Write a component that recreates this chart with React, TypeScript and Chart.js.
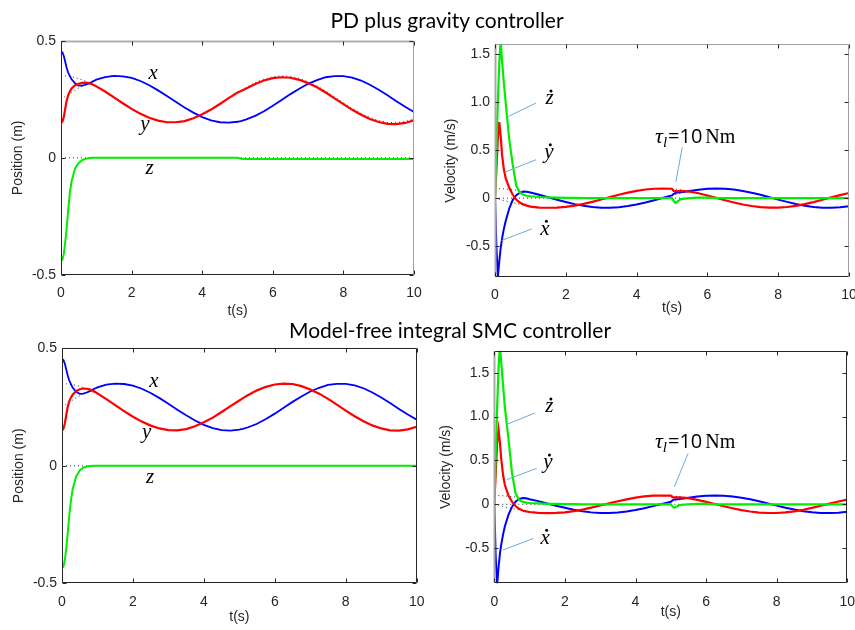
import React, { useEffect, useRef } from "react";
import { Chart, registerables } from "chart.js";

Chart.register(...registerables);

// ---------- time samples (s) ----------
const T = [
  0, 0.04, 0.08, 0.12, 0.16, 0.2, 0.25, 0.3, 0.4, 0.5, 0.6, 0.7, 0.8, 0.9,
  1, 1.25, 1.5, 1.75, 2, 2.25, 2.5, 2.75, 3, 3.25, 3.5, 3.75, 4, 4.25, 4.5, 4.75, 5,
  5.05, 5.1,
  5.25, 5.5, 5.75, 6, 6.25, 6.5, 6.75, 7, 7.25, 7.5, 7.75, 8, 8.25, 8.5, 8.75, 9, 9.25, 9.5, 9.75, 10,
];
const T_FLAT = [0, 10];
const ZERO_FLAT = [0, 0];

// ---------- position references ----------
const REF_X = [
  0.25, 0.254, 0.258, 0.262, 0.266, 0.27, 0.275, 0.28, 0.289, 0.298, 0.306, 0.314, 0.322, 0.328,
  0.334, 0.345, 0.35, 0.348, 0.341, 0.328, 0.31, 0.288, 0.264, 0.239, 0.215, 0.193, 0.174, 0.16, 0.152, 0.15, 0.154,
  0.156, 0.157,
  0.164, 0.179, 0.199, 0.222, 0.247, 0.272, 0.295, 0.316, 0.332, 0.344, 0.349, 0.349, 0.342, 0.33, 0.312, 0.291, 0.267, 0.242, 0.218, 0.196,
];
const REF_Y = [
  0.35, 0.35, 0.35, 0.349, 0.349, 0.348, 0.347, 0.346, 0.342, 0.338, 0.333, 0.327, 0.32, 0.312,
  0.304, 0.282, 0.257, 0.232, 0.208, 0.187, 0.17, 0.158, 0.151, 0.151, 0.156, 0.168, 0.185, 0.205, 0.229, 0.254, 0.278,
  0.283, 0.288,
  0.301, 0.321, 0.336, 0.346, 0.35, 0.348, 0.339, 0.325, 0.307, 0.285, 0.26, 0.235, 0.211, 0.19, 0.172, 0.159, 0.151, 0.15, 0.155, 0.166,
];

// ---------- PD plus gravity: positions ----------
const PD_X = [
  0.454, 0.45, 0.435, 0.41, 0.385, 0.365, 0.35, 0.335, 0.318, 0.308, 0.308, 0.312, 0.318, 0.326,
  0.334, 0.345, 0.35, 0.348, 0.341, 0.328, 0.31, 0.288, 0.264, 0.239, 0.215, 0.193, 0.174, 0.16, 0.152, 0.15, 0.154,
  0.156, 0.157,
  0.164, 0.179, 0.199, 0.222, 0.247, 0.272, 0.295, 0.316, 0.332, 0.344, 0.349, 0.349, 0.342, 0.33, 0.312, 0.291, 0.267, 0.242, 0.218, 0.196,
];
const PD_Y = [
  0.15, 0.155, 0.175, 0.21, 0.245, 0.265, 0.283, 0.296, 0.31, 0.316, 0.32, 0.321, 0.319, 0.313,
  0.305, 0.283, 0.258, 0.233, 0.209, 0.188, 0.171, 0.159, 0.152, 0.152, 0.157, 0.169, 0.186, 0.206, 0.23, 0.255, 0.279,
  0.282, 0.285,
  0.296, 0.315, 0.33, 0.34, 0.344, 0.342, 0.333, 0.319, 0.301, 0.279, 0.254, 0.229, 0.205, 0.184, 0.166, 0.153, 0.145, 0.144, 0.149, 0.16,
];
const PD_Z = [
  -0.435, -0.435, -0.41, -0.36, -0.3, -0.23, -0.15, -0.1, -0.045, -0.022, -0.01, -0.004, -0.001, 0,
  0, 0, 0, 0, 0, 0, 0, 0, 0, 0, 0, 0, 0, 0, 0, 0, 0,
  -0.002, -0.004,
  -0.005, -0.005, -0.005, -0.005, -0.005, -0.005, -0.005, -0.005, -0.005, -0.005, -0.005, -0.005, -0.005, -0.005, -0.005, -0.005, -0.005, -0.005, -0.005, -0.005,
];

// ---------- Model-free integral SMC: positions ----------
const SMC_X = [
  0.455, 0.45, 0.435, 0.41, 0.385, 0.365, 0.348, 0.333, 0.315, 0.306, 0.307, 0.312, 0.319, 0.327,
  0.334, 0.345, 0.35, 0.348, 0.341, 0.328, 0.31, 0.288, 0.264, 0.239, 0.215, 0.193, 0.174, 0.16, 0.152, 0.15, 0.154,
  0.156, 0.157,
  0.164, 0.179, 0.199, 0.222, 0.247, 0.272, 0.295, 0.316, 0.332, 0.344, 0.349, 0.349, 0.342, 0.33, 0.312, 0.291, 0.267, 0.242, 0.218, 0.196,
];
const SMC_Y = [
  0.15, 0.158, 0.18, 0.215, 0.25, 0.272, 0.29, 0.303, 0.318, 0.326, 0.329, 0.328, 0.324, 0.317,
  0.308, 0.284, 0.258, 0.233, 0.209, 0.188, 0.171, 0.159, 0.152, 0.151, 0.156, 0.168, 0.185, 0.205, 0.229, 0.254, 0.278,
  0.283, 0.288,
  0.301, 0.321, 0.336, 0.346, 0.35, 0.348, 0.339, 0.325, 0.307, 0.285, 0.26, 0.235, 0.211, 0.19, 0.172, 0.159, 0.151, 0.15, 0.155, 0.166,
];
const SMC_Z = [
  -0.435, -0.43, -0.4, -0.35, -0.29, -0.22, -0.15, -0.1, -0.045, -0.02, -0.008, -0.003, -0.001, 0,
  0, 0, 0, 0, 0, 0, 0, 0, 0, 0, 0, 0, 0, 0, 0, 0, 0,
  0, 0,
  0, 0, 0, 0, 0, 0, 0, 0, 0, 0, 0, 0, 0, 0, 0, 0, 0, 0, 0, 0,
];

// ---------- velocity references ----------
const REF_VX = [
  0.1, 0.1, 0.1, 0.099, 0.099, 0.098, 0.097, 0.096, 0.092, 0.088, 0.083, 0.076, 0.07, 0.062,
  0.054, 0.032, 0.007, -0.018, -0.042, -0.063, -0.08, -0.092, -0.099, -0.099, -0.094, -0.082, -0.065, -0.045, -0.021, 0.004, 0.028,
  0.033, 0.038,
  0.051, 0.071, 0.086, 0.096, 0.1, 0.098, 0.089, 0.075, 0.057, 0.035, 0.01, -0.015, -0.039, -0.06, -0.078, -0.091, -0.099, -0.1, -0.095, -0.084,
];
const REF_VY = [
  0, -0.004, -0.008, -0.012, -0.016, -0.02, -0.025, -0.03, -0.039, -0.048, -0.056, -0.064, -0.072, -0.078,
  -0.084, -0.095, -0.1, -0.098, -0.091, -0.078, -0.06, -0.038, -0.014, 0.011, 0.035, 0.057, 0.076, 0.09, 0.098, 0.1, 0.096,
  0.095, 0.093,
  0.086, 0.071, 0.051, 0.028, 0.003, -0.022, -0.045, -0.066, -0.082, -0.094, -0.099, -0.099, -0.092, -0.08, -0.062, -0.041, -0.017, 0.008, 0.032, 0.054,
];

// ---------- PD plus gravity: velocities ----------
const PD_VX = [
  0, -0.5, -0.82, -0.66, -0.52, -0.42, -0.32, -0.24, -0.11, -0.02, 0.03, 0.055, 0.068, 0.066,
  0.058, 0.036, 0.01, -0.016, -0.04, -0.062, -0.08, -0.092, -0.099, -0.099, -0.094, -0.082, -0.065, -0.045, -0.021, 0.004, 0.028,
  0.045, 0.055,
  0.06, 0.075, 0.088, 0.097, 0.1, 0.098, 0.089, 0.075, 0.057, 0.035, 0.01, -0.015, -0.039, -0.06, -0.078, -0.091, -0.099, -0.1, -0.095, -0.084,
];
const PD_VY = [
  0, 0.3, 0.62, 0.79, 0.65, 0.45, 0.3, 0.21, 0.11, 0.035, -0.015, -0.045, -0.065, -0.078,
  -0.088, -0.098, -0.1, -0.098, -0.091, -0.078, -0.06, -0.038, -0.014, 0.011, 0.035, 0.057, 0.076, 0.09, 0.098, 0.1, 0.098,
  0.075, 0.072,
  0.075, 0.068, 0.051, 0.028, 0.003, -0.022, -0.045, -0.066, -0.082, -0.094, -0.099, -0.099, -0.092, -0.08, -0.062, -0.041, -0.017, 0.008, 0.032, 0.054,
];
const PD_VZ = [
  0, 0.5, 1.0, 1.4, 1.65, 1.42, 1.2, 1.0, 0.62, 0.35, 0.13, 0.06, 0.035, 0.025,
  0.02, 0.012, 0.008, 0.005, 0.003, 0.002, 0.001, 0, 0, 0, 0, 0, 0, 0, 0, 0, 0,
  -0.03, -0.05,
  -0.01, 0, 0.005, 0.005, 0, 0, 0, 0, 0, 0, 0, 0, 0, 0, 0, 0, 0, 0, 0, 0,
];

// ---------- Model-free integral SMC: velocities ----------
const SMC_VX = [
  0, -0.6, -0.92, -0.72, -0.56, -0.45, -0.34, -0.25, -0.12, -0.03, 0.03, 0.06, 0.072, 0.068,
  0.058, 0.036, 0.01, -0.016, -0.04, -0.062, -0.08, -0.092, -0.099, -0.099, -0.094, -0.082, -0.065, -0.045, -0.021, 0.004, 0.028,
  0.045, 0.055,
  0.06, 0.075, 0.088, 0.097, 0.1, 0.098, 0.089, 0.075, 0.057, 0.035, 0.01, -0.015, -0.039, -0.06, -0.078, -0.091, -0.099, -0.1, -0.095, -0.084,
];
const SMC_VY = [
  0, 0.35, 0.7, 0.85, 0.7, 0.5, 0.33, 0.22, 0.1, 0.03, -0.02, -0.05, -0.07, -0.08,
  -0.088, -0.098, -0.1, -0.098, -0.091, -0.078, -0.06, -0.038, -0.014, 0.011, 0.035, 0.057, 0.076, 0.09, 0.098, 0.1, 0.098,
  0.08, 0.078,
  0.078, 0.07, 0.051, 0.028, 0.003, -0.022, -0.045, -0.066, -0.082, -0.094, -0.099, -0.099, -0.092, -0.08, -0.062, -0.041, -0.017, 0.008, 0.032, 0.054,
];
const SMC_VZ = [
  0, 0.55, 1.1, 1.55, 1.8, 1.6, 1.35, 1.1, 0.75, 0.36, 0.13, 0.05, 0.03, 0.02,
  0.015, 0.01, 0.006, 0.004, 0.002, 0.001, 0, 0, 0, 0, 0, 0, 0, 0, 0, 0, 0,
  -0.025, -0.04,
  -0.008, 0, 0.004, 0.004, 0, 0, 0, 0, 0, 0, 0, 0, 0, 0, 0, 0, 0, 0, 0, 0,
];

// ---------- axis ticks & titles ----------
const X_TICK_STEP = 2;
const POS_RANGE = [-0.5, 0.5];
const PD_VEL_RANGE = [-0.82, 1.6];
const SMC_VEL_RANGE = [-0.9, 1.75];
const TITLES = ["PD plus gravity controller", "Model-free integral SMC controller"];

// ---------- annotations (data coordinates) ----------
const PD_POS_LABELS = [
  { ch: "x", t: 2.61, v: 0.336 },
  { ch: "y", t: 2.38, v: 0.12 },
  { ch: "z", t: 2.51, v: -0.068 },
];
const SMC_POS_LABELS = [
  { ch: "x", t: 2.59, v: 0.336 },
  { ch: "y", t: 2.39, v: 0.117 },
  { ch: "z", t: 2.48, v: -0.075 },
];
const PD_VEL_LABELS = [
  { ch: "z", t: 1.54, v: 0.975, dot: true },
  { ch: "y", t: 1.52, v: 0.414, dot: true },
  { ch: "x", t: 1.41, v: -0.38, dot: true },
];
const SMC_VEL_LABELS = [
  { ch: "z", t: 1.56, v: 1.046, dot: true },
  { ch: "y", t: 1.52, v: 0.409, dot: true },
  { ch: "x", t: 1.44, v: -0.45, dot: true },
];
const PD_VEL_LEADERS = [
  [1.16, 0.99, 0.38, 0.85],
  [1.16, 0.4, 0.31, 0.275],
  [1.04, -0.32, 0.19, -0.44],
  [5.29, 0.53, 5.11, 0.17],
];
const SMC_VEL_LEADERS = [
  [1.15, 1.04, 0.35, 0.91],
  [1.2, 0.41, 0.35, 0.28],
  [1.1, -0.39, 0.25, -0.52],
  [5.49, 0.58, 5.1, 0.2],
];
const PD_TAU = { t: 4.52, v: 0.575 };
const SMC_TAU = { t: 4.55, v: 0.638 };

const BLUE = "#0000ff";
const RED = "#ff0000";
const GREEN = "#00ee00";
const DARK = "#262626";

const matPlugin = {
  id: "mat",
  afterDatasetsDraw(chart: any, _a: any, opts: any) {
    const { ctx, chartArea: a, scales } = chart;
    const xs = scales.x;
    const ys = scales.y;
    ctx.save();
    const L = Math.round(a.left) + 0.5;
    const R = Math.round(a.right) - 0.5;
    const Tp = Math.round(a.top) + 0.5;
    const B = Math.round(a.bottom) - 0.5;
    const seg = (x1: number, y1: number, x2: number, y2: number, c: string, w = 1) => {
      ctx.strokeStyle = c;
      ctx.lineWidth = w;
      ctx.beginPath();
      ctx.moveTo(x1, y1);
      ctx.lineTo(x2, y2);
      ctx.stroke();
    };
    seg(L, Tp, R, Tp, opts.topColor, opts.topWidth);
    seg(R, Tp, R, B, opts.rightColor, 1);
    seg(L, Tp, L, B, opts.leftColor, opts.leftWidth);
    seg(L, B, R, B, DARK, 1);
    xs.ticks.forEach((tk: any) => {
      const px = Math.round(xs.getPixelForValue(tk.value)) + 0.5;
      seg(px, B, px, B - 4, DARK);
      seg(px, Tp, px, Tp + 4, DARK);
    });
    ys.ticks.forEach((tk: any) => {
      const py = Math.round(ys.getPixelForValue(tk.value)) + 0.5;
      seg(L, py, L + 4, py, DARK);
      seg(R, py, R - 4, py, DARK);
    });
    // leaders
    (opts.leaders || []).forEach((l: number[]) => {
      seg(
        xs.getPixelForValue(l[0]), ys.getPixelForValue(l[1]),
        xs.getPixelForValue(l[2]), ys.getPixelForValue(l[3]),
        "#6fa8dc", 1
      );
    });
    // labels
    ctx.fillStyle = "#000";
    ctx.textBaseline = "alphabetic";
    (opts.labels || []).forEach((lb: any) => {
      const px = xs.getPixelForValue(lb.t);
      const py = ys.getPixelForValue(lb.v);
      ctx.font = 'italic 21px "Liberation Serif"';
      ctx.textAlign = "center";
      ctx.fillText(lb.ch, px, py);
      if (lb.dot) {
        ctx.beginPath();
        ctx.arc(px + 1.5, py - 13.5, 1.5, 0, Math.PI * 2);
        ctx.fill();
      }
    });
    if (opts.tau) {
      let x = xs.getPixelForValue(opts.tau.t);
      const y = ys.getPixelForValue(opts.tau.v);
      ctx.textAlign = "left";
      ctx.font = 'italic 22px "Liberation Serif"';
      ctx.fillText("\u03c4", x, y);
      x += ctx.measureText("\u03c4").width;
      ctx.font = 'italic 15px "Liberation Serif"';
      ctx.fillText("l", x, y + 4);
      x += ctx.measureText("l").width + 1;
      ctx.font = '20px "Open Sans"';
      ctx.fillText("=10", x, y);
      x += ctx.measureText("=10").width + 3;
      ctx.font = '20px "Liberation Serif"';
      ctx.fillText("Nm", x, y);
    }
    ctx.restore();
  },
};

function lineSet(values: number[], color: string, width = 2) {
  return {
    data: T.map((t, i) => ({ x: t, y: values[i] })),
    borderColor: color,
    borderWidth: width,
    pointRadius: 0,
    tension: 0,
    fill: false,
  };
}
function refSet(xs: number[], values: number[]) {
  return {
    data: xs.map((t, i) => ({ x: t, y: values[i] })),
    borderColor: "#333",
    borderWidth: 1,
    borderDash: [1, 3],
    pointRadius: 0,
    tension: 0,
    fill: false,
  };
}

type Spec = {
  left: number; top: number; w: number; h: number;
  yW: number; padR: number; padT: number; xH: number;
  yRange: number[]; yTitle: string; yTitlePad: number; xTitlePad: number;
  datasets: any[]; mat: any;
};

const tickFont = { family: '"Liberation Sans", Arial, sans-serif', size: 14 };

function buildConfig(s: Spec): any {
  return {
    type: "line",
    data: { datasets: s.datasets },
    plugins: [matPlugin],
    options: {
      animation: false,
      responsive: false,
      events: [],
      layout: { padding: { left: 0, right: s.padR, top: s.padT, bottom: 0 } },
      plugins: { legend: { display: false }, tooltip: { enabled: false }, mat: s.mat },
      scales: {
        x: {
          type: "linear",
          min: 0,
          max: 10,
          grid: { display: false, drawTicks: false },
          border: { display: false },
          ticks: { stepSize: X_TICK_STEP, includeBounds: false, padding: 10, color: DARK, font: tickFont, maxRotation: 0 },
          title: { display: true, text: "t(s)", color: DARK, font: tickFont, padding: { top: 0, bottom: s.xTitlePad } },
          afterFit: (sc: any) => {
            sc.height = s.xH;
            sc.paddingLeft = 0;
            sc.paddingRight = 0;
          },
        },
        y: {
          type: "linear",
          min: s.yRange[0],
          max: s.yRange[1],
          grid: { display: false, drawTicks: false },
          border: { display: false },
          ticks: { stepSize: 0.5, includeBounds: false, padding: 5, color: DARK, font: tickFont },
          title: { display: true, text: s.yTitle, color: DARK, font: tickFont, padding: { top: s.yTitlePad, bottom: 0 } },
          afterFit: (sc: any) => {
            sc.width = s.yW;
            sc.paddingTop = 0;
            sc.paddingBottom = 0;
          },
        },
      },
    },
  };
}

function Panel({ spec }: { spec: Spec }) {
  const ref = useRef<HTMLCanvasElement>(null);
  useEffect(() => {
    const chart = new Chart(ref.current as HTMLCanvasElement, buildConfig(spec));
    return () => chart.destroy();
  }, []);
  return (
    <canvas
      ref={ref}
      width={spec.w}
      height={spec.h}
      style={{ position: "absolute", left: spec.left, top: spec.top, width: spec.w, height: spec.h }}
    />
  );
}

const posSets = (x: number[], y: number[], z: number[]) => [
  lineSet(z, GREEN, 2),
  lineSet(y, RED, 2.2),
  lineSet(x, BLUE, 1.8),
  refSet(T, REF_X),
  refSet(T, REF_Y),
  refSet(T_FLAT, ZERO_FLAT),
];
const velSets = (x: number[], y: number[], z: number[]) => [
  lineSet(z, GREEN, 2.2),
  lineSet(y, RED, 2.2),
  lineSet(x, BLUE, 2),
  refSet(T, REF_VX),
  refSet(T, REF_VY),
  refSet(T_FLAT, ZERO_FLAT),
];

const SPECS: Spec[] = [
  {
    left: 0, top: 30, w: 430, h: 300, yW: 61, padR: 16, padT: 10.7, xH: 55,
    yRange: POS_RANGE, yTitle: "Position (m)", yTitlePad: 10, xTitlePad: 10.6,
    datasets: posSets(PD_X, PD_Y, PD_Z),
    mat: { labels: PD_POS_LABELS, leaders: [], topColor: "#b0b0b0", topWidth: 2, rightColor: "#a0a0a0", leftColor: DARK, leftWidth: 1 },
  },
  {
    left: 430, top: 30, w: 425, h: 300, yW: 65, padR: 6, padT: 14.3, xH: 53,
    yRange: PD_VEL_RANGE, yTitle: "Velocity (m/s)", yTitlePad: 13, xTitlePad: 13.6,
    datasets: velSets(PD_VX, PD_VY, PD_VZ),
    mat: { labels: PD_VEL_LABELS, leaders: PD_VEL_LEADERS, tau: PD_TAU, topColor: "#a0a0a0", topWidth: 1, rightColor: "#a0a0a0", leftColor: "#a8a8a8", leftWidth: 2 },
  },
  {
    left: 0, top: 330, w: 430, h: 300, yW: 62, padR: 13.3, padT: 18.3, xH: 46.7,
    yRange: POS_RANGE, yTitle: "Position (m)", yTitlePad: 11, xTitlePad: 4,
    datasets: posSets(SMC_X, SMC_Y, SMC_Z),
    mat: { labels: SMC_POS_LABELS, leaders: [], topColor: DARK, topWidth: 1, rightColor: DARK, leftColor: DARK, leftWidth: 1 },
  },
  {
    left: 430, top: 330, w: 425, h: 300, yW: 64.3, padR: 7.7, padT: 20.7, xH: 46.7,
    yRange: SMC_VEL_RANGE, yTitle: "Velocity (m/s)", yTitlePad: 7.6, xTitlePad: 9,
    datasets: velSets(SMC_VX, SMC_VY, SMC_VZ),
    mat: { labels: SMC_VEL_LABELS, leaders: SMC_VEL_LEADERS, tau: SMC_TAU, topColor: DARK, topWidth: 1, rightColor: DARK, leftColor: "#a8a8a8", leftWidth: 2 },
  },
];

const titleStyle = (cx: number, top: number): React.CSSProperties => ({
  position: "absolute",
  left: cx - 300,
  top,
  width: 600,
  textAlign: "center",
  fontFamily: 'Lato, "Open Sans", sans-serif',
  fontSize: 21,
  lineHeight: "21px",
  color: "#000",
  zIndex: 2,
  whiteSpace: "nowrap",
});

export default function App() {
  return (
    <div style={{ position: "fixed", left: 0, top: 0, width: 855, height: 630, background: "#fff", overflow: "hidden" }}>
      {SPECS.map((s, i) => (
        <Panel key={i} spec={s} />
      ))}
      <div style={titleStyle(447, 9)}>{TITLES[0]}</div>
      <div style={titleStyle(450, 319)}>{TITLES[1]}</div>
    </div>
  );
}
